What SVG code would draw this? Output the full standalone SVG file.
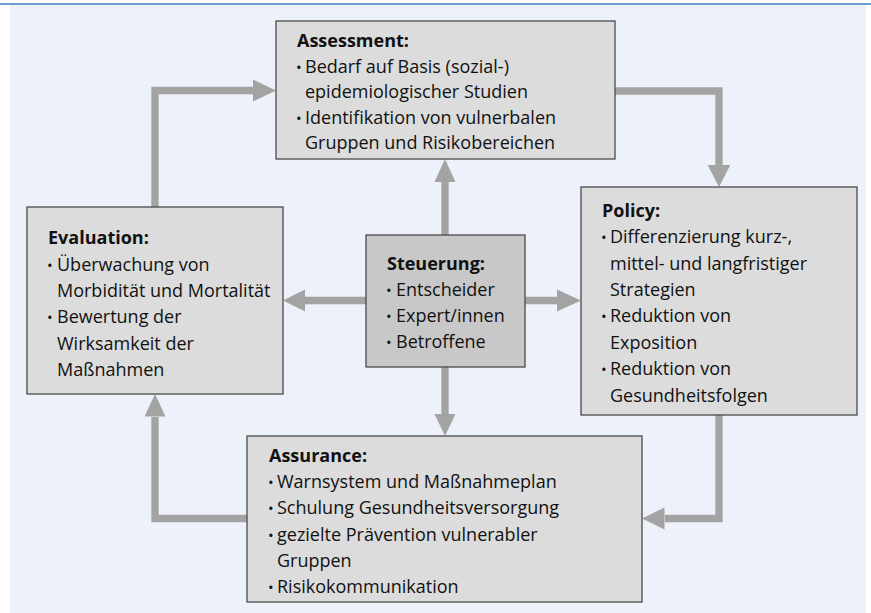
<svg xmlns="http://www.w3.org/2000/svg" width="871" height="613" viewBox="0 0 871 613">
<style>
.box{fill:#dcdcdc;stroke:#4a4a4a;stroke-width:1.3}
.dark{fill:#c8c8c8}
.t{font-family:"Open Sans","Noto Sans","DejaVu Sans",sans-serif;font-size:18px;fill:#111111}
.h{font-weight:bold}
.b{font-size:15px}
.sh{fill:none;stroke:#a3a3a3;stroke-width:7.3}
.hd{fill:#a3a3a3}
</style>
<rect x="0" y="0" width="871" height="613" fill="#ffffff"/>
<rect x="10" y="5" width="856" height="608" fill="#edf1f9"/>
<line x1="0" y1="4" x2="871" y2="4" stroke="#3c7dbf" stroke-width="1.6"/>
<g id="connectors">
<path class="sh" d="M155,207 V90.5 H254"/>
<polygon class="hd" points="253,79.5 276,90.5 253,101.5"/>
<path class="sh" d="M615,91 H719 V166"/>
<polygon class="hd" points="707.7,165 719,187 730.3,165"/>
<path class="sh" d="M719,415 V518.5 H665"/>
<polygon class="hd" points="664.5,507.5 642,518.5 664.5,529.5"/>
<path class="sh" d="M247,518.5 H155 V417"/>
<polygon class="hd" points="144.5,416.5 155,394 165.5,416.5"/>
<path class="sh" d="M445,235 V182"/>
<polygon class="hd" points="434.5,182 445,159 455.5,182"/>
<path class="sh" d="M366,300.5 H305"/>
<polygon class="hd" points="305,289.5 283,300.5 305,311.5"/>
<path class="sh" d="M525,300.5 H558"/>
<polygon class="hd" points="557,289.5 581,300.5 557,311.5"/>
<path class="sh" d="M445,367 V415"/>
<polygon class="hd" points="434.5,414 445,436 455.5,414"/>
</g>
<g id="assessment">
<rect class="box" x="276" y="21" width="339" height="138"/>
<text class="t h" x="297" y="47">Assessment:</text>
<text class="t" y="72.6"><tspan class="b" x="296">•</tspan><tspan x="305">Bedarf auf Basis (sozial-)</tspan></text>
<text class="t" x="305" y="98.2">epidemiologischer Studien</text>
<text class="t" y="123.8"><tspan class="b" x="296">•</tspan><tspan x="305">Identifikation von vulnerbalen</tspan></text>
<text class="t" x="305" y="149.4">Gruppen und Risikobereichen</text>
</g>
<g id="evaluation">
<rect class="box" x="27" y="207" width="256" height="187"/>
<text class="t h" x="48" y="244.3">Evaluation:</text>
<text class="t" y="270.6"><tspan class="b" x="47">•</tspan><tspan x="57">Überwachung von</tspan></text>
<text class="t" x="57" y="296.9">Morbidität und Mortalität</text>
<text class="t" y="323.2"><tspan class="b" x="47">•</tspan><tspan x="57">Bewertung der</tspan></text>
<text class="t" x="57" y="349.5">Wirksamkeit der</text>
<text class="t" x="57" y="375.8">Maßnahmen</text>
</g>
<g id="steuerung">
<rect class="box dark" x="366" y="235" width="159" height="132"/>
<text class="t h" x="387" y="270">Steuerung:</text>
<text class="t" y="296.1"><tspan class="b" x="386">•</tspan><tspan x="396">Entscheider</tspan></text>
<text class="t" y="322.2"><tspan class="b" x="386">•</tspan><tspan x="396">Expert/innen</tspan></text>
<text class="t" y="348.3"><tspan class="b" x="386">•</tspan><tspan x="396">Betroffene</tspan></text>
</g>
<g id="policy">
<rect class="box" x="581" y="187" width="276" height="228"/>
<text class="t h" x="602" y="216.7">Policy:</text>
<text class="t" y="243.1"><tspan class="b" x="601">•</tspan><tspan x="610">Differenzierung kurz-,</tspan></text>
<text class="t" x="610" y="269.5">mittel- und langfristiger</text>
<text class="t" x="610" y="295.9">Strategien</text>
<text class="t" y="322.3"><tspan class="b" x="601">•</tspan><tspan x="610">Reduktion von</tspan></text>
<text class="t" x="610" y="348.7">Exposition</text>
<text class="t" y="375.1"><tspan class="b" x="601">•</tspan><tspan x="610">Reduktion von</tspan></text>
<text class="t" x="610" y="401.5">Gesundheitsfolgen</text>
</g>
<g id="assurance">
<rect class="box" x="247" y="436" width="395" height="166"/>
<text class="t h" x="269" y="461.7">Assurance:</text>
<text class="t" y="488"><tspan class="b" x="268">•</tspan><tspan x="277">Warnsystem und Maßnahmeplan</tspan></text>
<text class="t" y="514.3"><tspan class="b" x="268">•</tspan><tspan x="277">Schulung Gesundheitsversorgung</tspan></text>
<text class="t" y="540.6"><tspan class="b" x="268">•</tspan><tspan x="277">gezielte Prävention vulnerabler</tspan></text>
<text class="t" x="277" y="566.9">Gruppen</text>
<text class="t" y="593.2"><tspan class="b" x="268">•</tspan><tspan x="277">Risikokommunikation</tspan></text>
</g>
</svg>
